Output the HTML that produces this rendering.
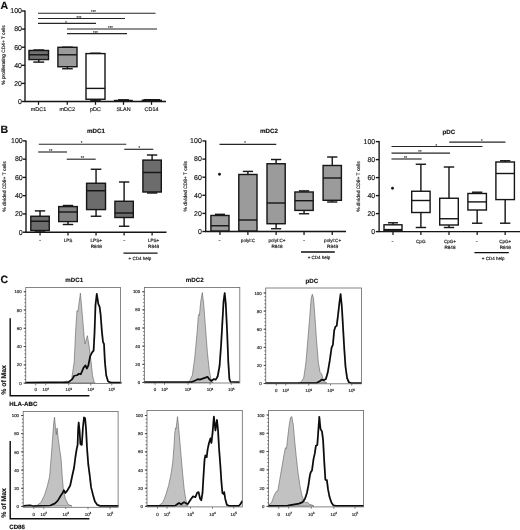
<!DOCTYPE html>
<html lang="en">
<head>
<meta charset="utf-8">
<title>Figure</title>
<style>
html,body{margin:0;padding:0;background:#fff;}
body{width:520px;height:530px;overflow:hidden;}
svg{display:block;text-rendering:geometricPrecision;}
text{stroke:#1c1c1c;stroke-width:0.16px;}
</style>
</head>
<body>
<svg width="520" height="530" viewBox="0 0 520 530" font-family='"Liberation Sans", sans-serif'>
<rect x="0" y="0" width="520" height="530" fill="#ffffff"/>
<g filter="url(#soft)">
<text x="0.6" y="8.8" font-size="10.6" text-anchor="start" font-weight="bold" fill="#111" >A</text>
<line x1="25.0" y1="10.5" x2="25.0" y2="102.0" stroke="#141414" stroke-width="1.35" />
<line x1="21.7" y1="11.0" x2="25.0" y2="11.0" stroke="#141414" stroke-width="1.35" />
<text x="22.0" y="13.32" font-size="7" text-anchor="end" font-weight="normal" fill="#141414" >100</text>
<line x1="21.7" y1="29.1" x2="25.0" y2="29.1" stroke="#141414" stroke-width="1.35" />
<text x="22.0" y="31.42" font-size="7" text-anchor="end" font-weight="normal" fill="#141414" >80</text>
<line x1="21.7" y1="47.2" x2="25.0" y2="47.2" stroke="#141414" stroke-width="1.35" />
<text x="22.0" y="49.52" font-size="7" text-anchor="end" font-weight="normal" fill="#141414" >60</text>
<line x1="21.7" y1="65.3" x2="25.0" y2="65.3" stroke="#141414" stroke-width="1.35" />
<text x="22.0" y="67.61999999999999" font-size="7" text-anchor="end" font-weight="normal" fill="#141414" >40</text>
<line x1="21.7" y1="83.4" x2="25.0" y2="83.4" stroke="#141414" stroke-width="1.35" />
<text x="22.0" y="85.72" font-size="7" text-anchor="end" font-weight="normal" fill="#141414" >20</text>
<line x1="21.7" y1="101.5" x2="25.0" y2="101.5" stroke="#141414" stroke-width="1.35" />
<text x="22.0" y="103.82" font-size="7" text-anchor="end" font-weight="normal" fill="#141414" >0</text>
<text transform="translate(5.0,55) rotate(-90)" font-size="4.8" text-anchor="middle" fill="#141414">% proliferating CD4+ T cells</text>
<line x1="24.4" y1="101.5" x2="166" y2="101.5" stroke="#141414" stroke-width="1.35" />
<line x1="38.75" y1="50.0" x2="38.75" y2="50.5" stroke="#141414" stroke-width="1.4" />
<line x1="38.75" y1="59.6" x2="38.75" y2="62.1" stroke="#141414" stroke-width="1.4" />
<line x1="33.29" y1="50.0" x2="44.21" y2="50.0" stroke="#141414" stroke-width="1.4" />
<line x1="33.29" y1="62.1" x2="44.21" y2="62.1" stroke="#141414" stroke-width="1.4" />
<rect x="29.0" y="50.5" width="19.5" height="9.100000000000001" fill="#707070" stroke="#141414" stroke-width="1.4"/>
<line x1="29.0" y1="54.8" x2="48.5" y2="54.8" stroke="#141414" stroke-width="1.4" />
<line x1="67.45" y1="47.2" x2="67.45" y2="47.3" stroke="#141414" stroke-width="1.4" />
<line x1="67.45" y1="66.75" x2="67.45" y2="68.75" stroke="#141414" stroke-width="1.4" />
<line x1="62.102000000000004" y1="47.2" x2="72.798" y2="47.2" stroke="#141414" stroke-width="1.4" />
<line x1="62.102000000000004" y1="68.75" x2="72.798" y2="68.75" stroke="#141414" stroke-width="1.4" />
<rect x="57.9" y="47.3" width="19.1" height="19.450000000000003" fill="#9b9b9b" stroke="#141414" stroke-width="1.4"/>
<line x1="57.9" y1="54.8" x2="77" y2="54.8" stroke="#141414" stroke-width="1.4" />
<line x1="95.5" y1="53.2" x2="95.5" y2="53.6" stroke="#141414" stroke-width="1.4" />
<line x1="95.5" y1="99.25" x2="95.5" y2="100.2" stroke="#141414" stroke-width="1.4" />
<line x1="90.18" y1="53.2" x2="100.82" y2="53.2" stroke="#141414" stroke-width="1.4" />
<line x1="90.18" y1="100.2" x2="100.82" y2="100.2" stroke="#141414" stroke-width="1.4" />
<rect x="86" y="53.6" width="19" height="45.65" fill="#ffffff" stroke="#141414" stroke-width="1.4"/>
<line x1="86" y1="88.4" x2="105" y2="88.4" stroke="#141414" stroke-width="1.4" />
<rect x="113.8" y="99.8" width="19" height="1.6" fill="#141414"/>
<rect x="118" y="99.1" width="11" height="1" fill="#141414"/>
<rect x="141.6" y="99.6" width="20.4" height="1.8" fill="#141414"/>
<rect x="143.5" y="99.0" width="16.5" height="1" fill="#141414"/>
<line x1="38.5" y1="101.5" x2="38.5" y2="104.8" stroke="#141414" stroke-width="1.25" />
<text x="38.5" y="111" font-size="5.4" text-anchor="middle" font-weight="normal" fill="#141414" >mDC1</text>
<line x1="67.25" y1="101.5" x2="67.25" y2="104.8" stroke="#141414" stroke-width="1.25" />
<text x="67.25" y="111" font-size="5.4" text-anchor="middle" font-weight="normal" fill="#141414" >mDC2</text>
<line x1="95.5" y1="101.5" x2="95.5" y2="104.8" stroke="#141414" stroke-width="1.25" />
<text x="95.5" y="111" font-size="5.4" text-anchor="middle" font-weight="normal" fill="#141414" >pDC</text>
<line x1="123.5" y1="101.5" x2="123.5" y2="104.8" stroke="#141414" stroke-width="1.25" />
<text x="123.5" y="111" font-size="5.4" text-anchor="middle" font-weight="normal" fill="#141414" >SLAN</text>
<line x1="151.5" y1="101.5" x2="151.5" y2="104.8" stroke="#141414" stroke-width="1.25" />
<text x="151.5" y="111" font-size="5.4" text-anchor="middle" font-weight="normal" fill="#141414" >CD14</text>
<line x1="38" y1="13.2" x2="155.5" y2="13.2" stroke="#262626" stroke-width="1.15" />
<text x="93.5" y="13.299999999999999" font-size="4.2" text-anchor="middle" font-weight="normal" fill="#222" >***</text>
<line x1="38" y1="18.5" x2="125" y2="18.5" stroke="#262626" stroke-width="1.15" />
<text x="79" y="18.6" font-size="4.2" text-anchor="middle" font-weight="normal" fill="#222" >***</text>
<line x1="38" y1="23.4" x2="96" y2="23.4" stroke="#262626" stroke-width="1.15" />
<text x="66" y="23.5" font-size="4.2" text-anchor="middle" font-weight="normal" fill="#222" >*</text>
<line x1="67" y1="29" x2="157" y2="29" stroke="#262626" stroke-width="1.15" />
<text x="110.5" y="29.1" font-size="4.2" text-anchor="middle" font-weight="normal" fill="#222" >***</text>
<line x1="67" y1="33.6" x2="127" y2="33.6" stroke="#262626" stroke-width="1.15" />
<text x="95.5" y="33.7" font-size="4.2" text-anchor="middle" font-weight="normal" fill="#222" >***</text>
<text x="0.4" y="133.1" font-size="10.6" text-anchor="start" font-weight="bold" fill="#111" >B</text>
<text x="95.9" y="133.2" font-size="6.2" text-anchor="middle" font-weight="bold" fill="#141414" >mDC1</text>
<line x1="26.0" y1="140.4" x2="26.0" y2="232.7" stroke="#141414" stroke-width="1.35" />
<line x1="22.7" y1="140.9" x2="26.0" y2="140.9" stroke="#141414" stroke-width="1.35" />
<text x="22.7" y="143.22000000000003" font-size="7" text-anchor="end" font-weight="normal" fill="#141414" >100</text>
<line x1="22.7" y1="159.16" x2="26.0" y2="159.16" stroke="#141414" stroke-width="1.35" />
<text x="22.7" y="161.48000000000002" font-size="7" text-anchor="end" font-weight="normal" fill="#141414" >80</text>
<line x1="22.7" y1="177.42000000000002" x2="26.0" y2="177.42000000000002" stroke="#141414" stroke-width="1.35" />
<text x="22.7" y="179.74000000000004" font-size="7" text-anchor="end" font-weight="normal" fill="#141414" >60</text>
<line x1="22.7" y1="195.68" x2="26.0" y2="195.68" stroke="#141414" stroke-width="1.35" />
<text x="22.7" y="198.00000000000003" font-size="7" text-anchor="end" font-weight="normal" fill="#141414" >40</text>
<line x1="22.7" y1="213.94" x2="26.0" y2="213.94" stroke="#141414" stroke-width="1.35" />
<text x="22.7" y="216.26000000000002" font-size="7" text-anchor="end" font-weight="normal" fill="#141414" >20</text>
<line x1="22.7" y1="232.2" x2="26.0" y2="232.2" stroke="#141414" stroke-width="1.35" />
<text x="22.7" y="234.52" font-size="7" text-anchor="end" font-weight="normal" fill="#141414" >0</text>
<text transform="translate(5.8,186.55) rotate(-90)" font-size="4.9" text-anchor="middle" fill="#141414">% divided CD8+ T cells</text>
<line x1="25.4" y1="232.2" x2="166.5" y2="232.2" stroke="#141414" stroke-width="1.35" />
<line x1="40.025" y1="210.9" x2="40.025" y2="216.25" stroke="#141414" stroke-width="1.4" />
<line x1="40.025" y1="230.5" x2="40.025" y2="231" stroke="#141414" stroke-width="1.4" />
<line x1="34.858999999999995" y1="210.9" x2="45.191" y2="210.9" stroke="#141414" stroke-width="1.4" />
<line x1="34.858999999999995" y1="231" x2="45.191" y2="231" stroke="#141414" stroke-width="1.4" />
<rect x="30.8" y="216.25" width="18.45" height="14.25" fill="#6c6c6c" stroke="#141414" stroke-width="1.4"/>
<line x1="30.8" y1="221.25" x2="49.25" y2="221.25" stroke="#141414" stroke-width="1.4" />
<line x1="40.025" y1="232.2" x2="40.025" y2="235.6" stroke="#141414" stroke-width="1.25" />
<line x1="68.0" y1="205.5" x2="68.0" y2="206.6" stroke="#141414" stroke-width="1.4" />
<line x1="68.0" y1="221.6" x2="68.0" y2="224.5" stroke="#141414" stroke-width="1.4" />
<line x1="62.792" y1="205.5" x2="73.208" y2="205.5" stroke="#141414" stroke-width="1.4" />
<line x1="62.792" y1="224.5" x2="73.208" y2="224.5" stroke="#141414" stroke-width="1.4" />
<rect x="58.7" y="206.6" width="18.599999999999994" height="15.0" fill="#808080" stroke="#141414" stroke-width="1.4"/>
<line x1="58.7" y1="212" x2="77.3" y2="212" stroke="#141414" stroke-width="1.4" />
<line x1="68.0" y1="232.2" x2="68.0" y2="235.6" stroke="#141414" stroke-width="1.25" />
<line x1="96.05" y1="169.25" x2="96.05" y2="183.25" stroke="#141414" stroke-width="1.4" />
<line x1="96.05" y1="209.6" x2="96.05" y2="216.25" stroke="#141414" stroke-width="1.4" />
<line x1="90.758" y1="169.25" x2="101.342" y2="169.25" stroke="#141414" stroke-width="1.4" />
<line x1="90.758" y1="216.25" x2="101.342" y2="216.25" stroke="#141414" stroke-width="1.4" />
<rect x="86.6" y="183.25" width="18.900000000000006" height="26.349999999999994" fill="#6c6c6c" stroke="#141414" stroke-width="1.4"/>
<line x1="86.6" y1="190.75" x2="105.5" y2="190.75" stroke="#141414" stroke-width="1.4" />
<line x1="96.05" y1="232.2" x2="96.05" y2="235.6" stroke="#141414" stroke-width="1.25" />
<line x1="124.10000000000001" y1="182" x2="124.10000000000001" y2="201.25" stroke="#141414" stroke-width="1.4" />
<line x1="124.10000000000001" y1="217.5" x2="124.10000000000001" y2="226.25" stroke="#141414" stroke-width="1.4" />
<line x1="118.94800000000001" y1="182" x2="129.252" y2="182" stroke="#141414" stroke-width="1.4" />
<line x1="118.94800000000001" y1="226.25" x2="129.252" y2="226.25" stroke="#141414" stroke-width="1.4" />
<rect x="114.9" y="201.25" width="18.400000000000006" height="16.25" fill="#6c6c6c" stroke="#141414" stroke-width="1.4"/>
<line x1="114.9" y1="213" x2="133.3" y2="213" stroke="#141414" stroke-width="1.4" />
<line x1="124.10000000000001" y1="232.2" x2="124.10000000000001" y2="235.6" stroke="#141414" stroke-width="1.25" />
<line x1="152.10000000000002" y1="155" x2="152.10000000000002" y2="160.1" stroke="#141414" stroke-width="1.4" />
<line x1="152.10000000000002" y1="192" x2="152.10000000000002" y2="193" stroke="#141414" stroke-width="1.4" />
<line x1="146.948" y1="155" x2="157.25200000000004" y2="155" stroke="#141414" stroke-width="1.4" />
<line x1="146.948" y1="193" x2="157.25200000000004" y2="193" stroke="#141414" stroke-width="1.4" />
<rect x="142.9" y="160.1" width="18.400000000000006" height="31.900000000000006" fill="#6c6c6c" stroke="#141414" stroke-width="1.4"/>
<line x1="142.9" y1="172.5" x2="161.3" y2="172.5" stroke="#141414" stroke-width="1.4" />
<line x1="152.10000000000002" y1="232.2" x2="152.10000000000002" y2="235.6" stroke="#141414" stroke-width="1.25" />
<text x="40" y="241.7" font-size="6.5" text-anchor="middle" font-weight="normal" fill="#141414" >-</text>
<text x="68" y="241.7" font-size="4.6" text-anchor="middle" font-weight="normal" fill="#141414" >LPS</text>
<text x="96.25" y="241.7" font-size="4.6" text-anchor="middle" font-weight="normal" fill="#141414" >LPS+</text>
<text x="96.25" y="247.7" font-size="4.6" text-anchor="middle" font-weight="normal" fill="#141414" >R848</text>
<text x="124.25" y="241.7" font-size="6.5" text-anchor="middle" font-weight="normal" fill="#141414" >-</text>
<text x="153.6" y="241.7" font-size="4.6" text-anchor="middle" font-weight="normal" fill="#141414" >LPS+</text>
<text x="153.6" y="247.7" font-size="4.6" text-anchor="middle" font-weight="normal" fill="#141414" >R848</text>
<line x1="123.5" y1="253.1" x2="157.5" y2="253.1" stroke="#111" stroke-width="1.4" />
<text x="139.9" y="260.1" font-size="4.5" text-anchor="middle" font-weight="normal" fill="#141414" >+ CD4 help</text>
<line x1="38.75" y1="144.2" x2="126.25" y2="144.2" stroke="#262626" stroke-width="1.15" />
<text x="81.5" y="144.29999999999998" font-size="4.2" text-anchor="middle" font-weight="normal" fill="#222" >*</text>
<line x1="38.2" y1="152" x2="67" y2="152" stroke="#262626" stroke-width="1.15" />
<text x="50.75" y="152.1" font-size="4.2" text-anchor="middle" font-weight="normal" fill="#222" >**</text>
<line x1="66.7" y1="159.2" x2="95.7" y2="159.2" stroke="#262626" stroke-width="1.15" />
<text x="82.5" y="159.29999999999998" font-size="4.2" text-anchor="middle" font-weight="normal" fill="#222" >**</text>
<line x1="124.25" y1="149.3" x2="153.25" y2="149.3" stroke="#262626" stroke-width="1.15" />
<text x="139.25" y="149.4" font-size="4.2" text-anchor="middle" font-weight="normal" fill="#222" >*</text>
<text x="268.9" y="133.2" font-size="6.2" text-anchor="middle" font-weight="bold" fill="#141414" >mDC2</text>
<line x1="205.7" y1="140.5" x2="205.7" y2="232.0" stroke="#141414" stroke-width="1.35" />
<line x1="202.39999999999998" y1="141.0" x2="205.7" y2="141.0" stroke="#141414" stroke-width="1.35" />
<text x="201.8" y="143.32000000000002" font-size="7" text-anchor="end" font-weight="normal" fill="#141414" >100</text>
<line x1="202.39999999999998" y1="159.1" x2="205.7" y2="159.1" stroke="#141414" stroke-width="1.35" />
<text x="201.8" y="161.42000000000002" font-size="7" text-anchor="end" font-weight="normal" fill="#141414" >80</text>
<line x1="202.39999999999998" y1="177.2" x2="205.7" y2="177.2" stroke="#141414" stroke-width="1.35" />
<text x="201.8" y="179.52" font-size="7" text-anchor="end" font-weight="normal" fill="#141414" >60</text>
<line x1="202.39999999999998" y1="195.3" x2="205.7" y2="195.3" stroke="#141414" stroke-width="1.35" />
<text x="201.8" y="197.62000000000003" font-size="7" text-anchor="end" font-weight="normal" fill="#141414" >40</text>
<line x1="202.39999999999998" y1="213.4" x2="205.7" y2="213.4" stroke="#141414" stroke-width="1.35" />
<text x="201.8" y="215.72000000000003" font-size="7" text-anchor="end" font-weight="normal" fill="#141414" >20</text>
<line x1="202.39999999999998" y1="231.5" x2="205.7" y2="231.5" stroke="#141414" stroke-width="1.35" />
<text x="201.8" y="233.82000000000002" font-size="7" text-anchor="end" font-weight="normal" fill="#141414" >0</text>
<text transform="translate(186.7,186.25) rotate(-90)" font-size="4.9" text-anchor="middle" fill="#141414">% divided CD8+ T cells</text>
<line x1="205.1" y1="231.5" x2="346" y2="231.5" stroke="#141414" stroke-width="1.35" />
<line x1="219.95" y1="214.3" x2="219.95" y2="215.5" stroke="#141414" stroke-width="1.4" />
<line x1="219.95" y1="231" x2="219.95" y2="231" stroke="#141414" stroke-width="1.4" />
<line x1="214.88199999999998" y1="214.3" x2="225.018" y2="214.3" stroke="#141414" stroke-width="1.4" />
<line x1="214.88199999999998" y1="231" x2="225.018" y2="231" stroke="#141414" stroke-width="1.4" />
<rect x="210.9" y="215.5" width="18.099999999999994" height="15.5" fill="#9b9b9b" stroke="#141414" stroke-width="1.4"/>
<line x1="210.9" y1="225.75" x2="229.0" y2="225.75" stroke="#141414" stroke-width="1.4" />
<line x1="219.95" y1="231.5" x2="219.95" y2="234.9" stroke="#141414" stroke-width="1.25" />
<line x1="247.9" y1="171.4" x2="247.9" y2="174.5" stroke="#141414" stroke-width="1.4" />
<line x1="247.9" y1="231" x2="247.9" y2="231" stroke="#141414" stroke-width="1.4" />
<line x1="242.804" y1="171.4" x2="252.996" y2="171.4" stroke="#141414" stroke-width="1.4" />
<line x1="242.804" y1="231" x2="252.996" y2="231" stroke="#141414" stroke-width="1.4" />
<rect x="238.8" y="174.5" width="18.19999999999999" height="56.5" fill="#9b9b9b" stroke="#141414" stroke-width="1.4"/>
<line x1="238.8" y1="220" x2="257.0" y2="220" stroke="#141414" stroke-width="1.4" />
<line x1="247.9" y1="231.5" x2="247.9" y2="234.9" stroke="#141414" stroke-width="1.25" />
<line x1="276.1" y1="159.5" x2="276.1" y2="163.75" stroke="#141414" stroke-width="1.4" />
<line x1="276.1" y1="223.75" x2="276.1" y2="228.75" stroke="#141414" stroke-width="1.4" />
<line x1="271.004" y1="159.5" x2="281.196" y2="159.5" stroke="#141414" stroke-width="1.4" />
<line x1="271.004" y1="228.75" x2="281.196" y2="228.75" stroke="#141414" stroke-width="1.4" />
<rect x="267" y="163.75" width="18.19999999999999" height="60.0" fill="#9b9b9b" stroke="#141414" stroke-width="1.4"/>
<line x1="267" y1="203.0" x2="285.2" y2="203.0" stroke="#141414" stroke-width="1.4" />
<line x1="276.1" y1="231.5" x2="276.1" y2="234.9" stroke="#141414" stroke-width="1.25" />
<line x1="304.04999999999995" y1="190.9" x2="304.04999999999995" y2="192.0" stroke="#141414" stroke-width="1.4" />
<line x1="304.04999999999995" y1="210.4" x2="304.04999999999995" y2="213.75" stroke="#141414" stroke-width="1.4" />
<line x1="298.92599999999993" y1="190.9" x2="309.174" y2="190.9" stroke="#141414" stroke-width="1.4" />
<line x1="298.92599999999993" y1="213.75" x2="309.174" y2="213.75" stroke="#141414" stroke-width="1.4" />
<rect x="294.9" y="192.0" width="18.30000000000001" height="18.400000000000006" fill="#9b9b9b" stroke="#141414" stroke-width="1.4"/>
<line x1="294.9" y1="200.7" x2="313.2" y2="200.7" stroke="#141414" stroke-width="1.4" />
<line x1="304.04999999999995" y1="231.5" x2="304.04999999999995" y2="234.9" stroke="#141414" stroke-width="1.25" />
<line x1="332.25" y1="157" x2="332.25" y2="165.5" stroke="#141414" stroke-width="1.4" />
<line x1="332.25" y1="200.3" x2="332.25" y2="202" stroke="#141414" stroke-width="1.4" />
<line x1="327.12600000000003" y1="157" x2="337.37399999999997" y2="157" stroke="#141414" stroke-width="1.4" />
<line x1="327.12600000000003" y1="202" x2="337.37399999999997" y2="202" stroke="#141414" stroke-width="1.4" />
<rect x="323.1" y="165.5" width="18.299999999999955" height="34.80000000000001" fill="#9b9b9b" stroke="#141414" stroke-width="1.4"/>
<line x1="323.1" y1="178" x2="341.4" y2="178" stroke="#141414" stroke-width="1.4" />
<line x1="332.25" y1="231.5" x2="332.25" y2="234.9" stroke="#141414" stroke-width="1.25" />
<circle cx="219.5" cy="174.25" r="1.4" fill="#141414"/>
<text x="219.5" y="241.8" font-size="6.5" text-anchor="middle" font-weight="normal" fill="#141414" >-</text>
<text x="248" y="241.8" font-size="4.6" text-anchor="middle" font-weight="normal" fill="#141414" >polyI:C</text>
<text x="277" y="241.8" font-size="4.6" text-anchor="middle" font-weight="normal" fill="#141414" >polyI:C+</text>
<text x="277" y="247.8" font-size="4.6" text-anchor="middle" font-weight="normal" fill="#141414" >R848</text>
<text x="304" y="241.8" font-size="6.5" text-anchor="middle" font-weight="normal" fill="#141414" >-</text>
<text x="332.6" y="241.8" font-size="4.6" text-anchor="middle" font-weight="normal" fill="#141414" >polyI:C+</text>
<text x="332.6" y="247.8" font-size="4.6" text-anchor="middle" font-weight="normal" fill="#141414" >R848</text>
<line x1="301" y1="252.0" x2="334.8" y2="252.0" stroke="#111" stroke-width="1.4" />
<text x="319" y="259.4" font-size="4.5" text-anchor="middle" font-weight="normal" fill="#141414" >+ CD4 help</text>
<line x1="219.5" y1="144.3" x2="276.25" y2="144.3" stroke="#262626" stroke-width="1.15" />
<text x="245" y="144.4" font-size="4.2" text-anchor="middle" font-weight="normal" fill="#222" >*</text>
<text x="448.75" y="133.6" font-size="6.2" text-anchor="middle" font-weight="bold" fill="#141414" >pDC</text>
<line x1="379.1" y1="141.1" x2="379.1" y2="232.1" stroke="#141414" stroke-width="1.35" />
<line x1="375.8" y1="141.6" x2="379.1" y2="141.6" stroke="#141414" stroke-width="1.35" />
<text x="375.2" y="143.92000000000002" font-size="7" text-anchor="end" font-weight="normal" fill="#141414" >100</text>
<line x1="375.8" y1="159.6" x2="379.1" y2="159.6" stroke="#141414" stroke-width="1.35" />
<text x="375.2" y="161.92000000000002" font-size="7" text-anchor="end" font-weight="normal" fill="#141414" >80</text>
<line x1="375.8" y1="177.6" x2="379.1" y2="177.6" stroke="#141414" stroke-width="1.35" />
<text x="375.2" y="179.92000000000002" font-size="7" text-anchor="end" font-weight="normal" fill="#141414" >60</text>
<line x1="375.8" y1="195.6" x2="379.1" y2="195.6" stroke="#141414" stroke-width="1.35" />
<text x="375.2" y="197.92000000000002" font-size="7" text-anchor="end" font-weight="normal" fill="#141414" >40</text>
<line x1="375.8" y1="213.6" x2="379.1" y2="213.6" stroke="#141414" stroke-width="1.35" />
<text x="375.2" y="215.92000000000002" font-size="7" text-anchor="end" font-weight="normal" fill="#141414" >20</text>
<line x1="375.8" y1="231.6" x2="379.1" y2="231.6" stroke="#141414" stroke-width="1.35" />
<text x="375.2" y="233.92000000000002" font-size="7" text-anchor="end" font-weight="normal" fill="#141414" >0</text>
<text transform="translate(359.5,186.6) rotate(-90)" font-size="4.9" text-anchor="middle" fill="#141414">% divided CD8+ T cells</text>
<line x1="378.5" y1="231.6" x2="520" y2="231.6" stroke="#141414" stroke-width="1.35" />
<line x1="393.0" y1="222.8" x2="393.0" y2="224.8" stroke="#141414" stroke-width="1.4" />
<line x1="393.0" y1="230.8" x2="393.0" y2="231" stroke="#141414" stroke-width="1.4" />
<line x1="387.96" y1="222.8" x2="398.04" y2="222.8" stroke="#141414" stroke-width="1.4" />
<line x1="387.96" y1="231" x2="398.04" y2="231" stroke="#141414" stroke-width="1.4" />
<rect x="384.0" y="224.8" width="18.0" height="6.0" fill="#ffffff" stroke="#141414" stroke-width="1.4"/>
<line x1="384.0" y1="229.6" x2="402.0" y2="229.6" stroke="#141414" stroke-width="1.4" />
<line x1="393.0" y1="231.6" x2="393.0" y2="235.0" stroke="#141414" stroke-width="1.25" />
<line x1="420.9" y1="164.25" x2="420.9" y2="191.25" stroke="#141414" stroke-width="1.4" />
<line x1="420.9" y1="212.5" x2="420.9" y2="227.5" stroke="#141414" stroke-width="1.4" />
<line x1="415.748" y1="164.25" x2="426.05199999999996" y2="164.25" stroke="#141414" stroke-width="1.4" />
<line x1="415.748" y1="227.5" x2="426.05199999999996" y2="227.5" stroke="#141414" stroke-width="1.4" />
<rect x="411.7" y="191.25" width="18.400000000000034" height="21.25" fill="#ffffff" stroke="#141414" stroke-width="1.4"/>
<line x1="411.7" y1="200.5" x2="430.1" y2="200.5" stroke="#141414" stroke-width="1.4" />
<line x1="420.9" y1="231.6" x2="420.9" y2="235.0" stroke="#141414" stroke-width="1.25" />
<line x1="449.0" y1="167" x2="449.0" y2="198.25" stroke="#141414" stroke-width="1.4" />
<line x1="449.0" y1="225" x2="449.0" y2="227.5" stroke="#141414" stroke-width="1.4" />
<line x1="443.792" y1="167" x2="454.208" y2="167" stroke="#141414" stroke-width="1.4" />
<line x1="443.792" y1="227.5" x2="454.208" y2="227.5" stroke="#141414" stroke-width="1.4" />
<rect x="439.7" y="198.25" width="18.600000000000023" height="26.75" fill="#ffffff" stroke="#141414" stroke-width="1.4"/>
<line x1="439.7" y1="218.75" x2="458.3" y2="218.75" stroke="#141414" stroke-width="1.4" />
<line x1="449.0" y1="231.6" x2="449.0" y2="235.0" stroke="#141414" stroke-width="1.25" />
<line x1="477.15" y1="192.2" x2="477.15" y2="193.5" stroke="#141414" stroke-width="1.4" />
<line x1="477.15" y1="210" x2="477.15" y2="223.2" stroke="#141414" stroke-width="1.4" />
<line x1="471.96999999999997" y1="192.2" x2="482.33" y2="192.2" stroke="#141414" stroke-width="1.4" />
<line x1="471.96999999999997" y1="223.2" x2="482.33" y2="223.2" stroke="#141414" stroke-width="1.4" />
<rect x="467.9" y="193.5" width="18.5" height="16.5" fill="#ffffff" stroke="#141414" stroke-width="1.4"/>
<line x1="467.9" y1="201.9" x2="486.4" y2="201.9" stroke="#141414" stroke-width="1.4" />
<line x1="477.15" y1="231.6" x2="477.15" y2="235.0" stroke="#141414" stroke-width="1.25" />
<line x1="505.15" y1="160.75" x2="505.15" y2="162" stroke="#141414" stroke-width="1.4" />
<line x1="505.15" y1="199.6" x2="505.15" y2="223.2" stroke="#141414" stroke-width="1.4" />
<line x1="499.96999999999997" y1="160.75" x2="510.33" y2="160.75" stroke="#141414" stroke-width="1.4" />
<line x1="499.96999999999997" y1="223.2" x2="510.33" y2="223.2" stroke="#141414" stroke-width="1.4" />
<rect x="495.9" y="162" width="18.5" height="37.599999999999994" fill="#ffffff" stroke="#141414" stroke-width="1.4"/>
<line x1="495.9" y1="173.5" x2="514.4" y2="173.5" stroke="#141414" stroke-width="1.4" />
<line x1="505.15" y1="231.6" x2="505.15" y2="235.0" stroke="#141414" stroke-width="1.25" />
<circle cx="392.5" cy="188.25" r="1.4" fill="#141414"/>
<text x="392.5" y="242.8" font-size="6.5" text-anchor="middle" font-weight="normal" fill="#141414" >-</text>
<text x="420.75" y="242.8" font-size="4.6" text-anchor="middle" font-weight="normal" fill="#141414" >CpG</text>
<text x="450" y="242.8" font-size="4.6" text-anchor="middle" font-weight="normal" fill="#141414" >CpG+</text>
<text x="450" y="248.8" font-size="4.6" text-anchor="middle" font-weight="normal" fill="#141414" >R848</text>
<text x="476.9" y="242.8" font-size="6.5" text-anchor="middle" font-weight="normal" fill="#141414" >-</text>
<text x="505.2" y="242.8" font-size="4.6" text-anchor="middle" font-weight="normal" fill="#141414" >CpG+</text>
<text x="505.2" y="248.8" font-size="4.6" text-anchor="middle" font-weight="normal" fill="#141414" >R848</text>
<line x1="474.4" y1="252.6" x2="508.8" y2="252.6" stroke="#111" stroke-width="1.4" />
<text x="493.1" y="260.1" font-size="4.5" text-anchor="middle" font-weight="normal" fill="#141414" >+ CD4 help</text>
<line x1="391.5" y1="146.5" x2="482.5" y2="146.5" stroke="#262626" stroke-width="1.15" />
<text x="436.25" y="146.6" font-size="4.2" text-anchor="middle" font-weight="normal" fill="#222" >*</text>
<line x1="391.5" y1="153.1" x2="450" y2="153.1" stroke="#262626" stroke-width="1.15" />
<text x="420" y="153.2" font-size="4.2" text-anchor="middle" font-weight="normal" fill="#222" >**</text>
<line x1="391.5" y1="159" x2="421.7" y2="159" stroke="#262626" stroke-width="1.15" />
<text x="405.6" y="159.1" font-size="4.2" text-anchor="middle" font-weight="normal" fill="#222" >**</text>
<line x1="449.25" y1="142.1" x2="505.5" y2="142.1" stroke="#262626" stroke-width="1.15" />
<text x="481.75" y="142.2" font-size="4.2" text-anchor="middle" font-weight="normal" fill="#222" >*</text>
<text x="0.5" y="283.1" font-size="10.6" text-anchor="start" font-weight="bold" fill="#111" >C</text>
<text x="74.2" y="282.1" font-size="6.2" text-anchor="middle" font-weight="bold" fill="#141414" >mDC1</text>
<polygon points="62,382.9 66.6,381.19 69.5,381.89 71.7,379.07 74.2,361.96 75.7,329.65 77,310.62 77.9,311.63 80.4,293.21 82.3,314.45 84.2,337.3 85.1,343.84 87.4,335.69 89.2,346.76 91.1,361.96 92.5,375.25 94,381.89 95,382.9" fill="#c2c2c2" stroke="#5c5c5c" stroke-width="0.6" stroke-linejoin="round"/>
<polyline points="26,382.7 68.5,382.19 72.3,379.07 74.2,375.75 77,375.25 78.9,373.74 80.8,374.24 83.6,367.6 85.5,365.38 86.8,368.5 88.3,365.69 90.2,356.22 92.1,352.4 93.6,350.59 94.5,333.47 95.5,304.99 96.8,293.91 98.3,303.98 99.6,306.9 100.6,314.45 101.9,331.56 103,342.03 104,343.84 104.9,361.96 106.2,375.25 108.1,381.49 110.9,382.6 120.8,382.7" fill="none" stroke="#0a0a0a" stroke-width="1.75" stroke-linejoin="round" stroke-linecap="round"/>
<rect x="25.75" y="287.5" width="94.65" height="96.10000000000002" fill="none" stroke="#666" stroke-width="0.8"/>
<line x1="23.65" y1="291.75" x2="25.75" y2="291.75" stroke="#333" stroke-width="0.9" />
<text x="21.55" y="293.35" font-size="4.3" text-anchor="end" font-weight="normal" fill="#222" >100</text>
<line x1="23.65" y1="310.02" x2="25.75" y2="310.02" stroke="#333" stroke-width="0.9" />
<text x="21.55" y="311.62" font-size="4.3" text-anchor="end" font-weight="normal" fill="#222" >80</text>
<line x1="23.65" y1="328.29" x2="25.75" y2="328.29" stroke="#333" stroke-width="0.9" />
<text x="21.55" y="329.89000000000004" font-size="4.3" text-anchor="end" font-weight="normal" fill="#222" >60</text>
<line x1="23.65" y1="346.56" x2="25.75" y2="346.56" stroke="#333" stroke-width="0.9" />
<text x="21.55" y="348.16" font-size="4.3" text-anchor="end" font-weight="normal" fill="#222" >40</text>
<line x1="23.65" y1="364.83000000000004" x2="25.75" y2="364.83000000000004" stroke="#333" stroke-width="0.9" />
<text x="21.55" y="366.43000000000006" font-size="4.3" text-anchor="end" font-weight="normal" fill="#222" >20</text>
<line x1="23.65" y1="383.1" x2="25.75" y2="383.1" stroke="#333" stroke-width="0.9" />
<text x="21.55" y="384.70000000000005" font-size="4.3" text-anchor="end" font-weight="normal" fill="#222" >0</text>
<line x1="24.35" y1="383.1" x2="25.75" y2="383.1" stroke="#444" stroke-width="0.7" />
<line x1="24.35" y1="379.446" x2="25.75" y2="379.446" stroke="#444" stroke-width="0.7" />
<line x1="24.35" y1="375.79200000000003" x2="25.75" y2="375.79200000000003" stroke="#444" stroke-width="0.7" />
<line x1="24.35" y1="372.13800000000003" x2="25.75" y2="372.13800000000003" stroke="#444" stroke-width="0.7" />
<line x1="24.35" y1="368.48400000000004" x2="25.75" y2="368.48400000000004" stroke="#444" stroke-width="0.7" />
<line x1="24.35" y1="364.83000000000004" x2="25.75" y2="364.83000000000004" stroke="#444" stroke-width="0.7" />
<line x1="24.35" y1="361.17600000000004" x2="25.75" y2="361.17600000000004" stroke="#444" stroke-width="0.7" />
<line x1="24.35" y1="357.522" x2="25.75" y2="357.522" stroke="#444" stroke-width="0.7" />
<line x1="24.35" y1="353.868" x2="25.75" y2="353.868" stroke="#444" stroke-width="0.7" />
<line x1="24.35" y1="350.214" x2="25.75" y2="350.214" stroke="#444" stroke-width="0.7" />
<line x1="24.35" y1="346.56" x2="25.75" y2="346.56" stroke="#444" stroke-width="0.7" />
<line x1="24.35" y1="342.906" x2="25.75" y2="342.906" stroke="#444" stroke-width="0.7" />
<line x1="24.35" y1="339.252" x2="25.75" y2="339.252" stroke="#444" stroke-width="0.7" />
<line x1="24.35" y1="335.598" x2="25.75" y2="335.598" stroke="#444" stroke-width="0.7" />
<line x1="24.35" y1="331.944" x2="25.75" y2="331.944" stroke="#444" stroke-width="0.7" />
<line x1="24.35" y1="328.29" x2="25.75" y2="328.29" stroke="#444" stroke-width="0.7" />
<line x1="24.35" y1="324.636" x2="25.75" y2="324.636" stroke="#444" stroke-width="0.7" />
<line x1="24.35" y1="320.982" x2="25.75" y2="320.982" stroke="#444" stroke-width="0.7" />
<line x1="24.35" y1="317.328" x2="25.75" y2="317.328" stroke="#444" stroke-width="0.7" />
<line x1="24.35" y1="313.674" x2="25.75" y2="313.674" stroke="#444" stroke-width="0.7" />
<line x1="24.35" y1="310.02" x2="25.75" y2="310.02" stroke="#444" stroke-width="0.7" />
<line x1="24.35" y1="306.366" x2="25.75" y2="306.366" stroke="#444" stroke-width="0.7" />
<line x1="24.35" y1="302.712" x2="25.75" y2="302.712" stroke="#444" stroke-width="0.7" />
<line x1="24.35" y1="299.058" x2="25.75" y2="299.058" stroke="#444" stroke-width="0.7" />
<line x1="24.35" y1="295.404" x2="25.75" y2="295.404" stroke="#444" stroke-width="0.7" />
<line x1="24.35" y1="291.75" x2="25.75" y2="291.75" stroke="#444" stroke-width="0.7" />
<line x1="35.75" y1="383.6" x2="35.75" y2="385.40000000000003" stroke="#4a4a4a" stroke-width="0.7" />
<line x1="45.75" y1="383.6" x2="45.75" y2="385.40000000000003" stroke="#4a4a4a" stroke-width="0.7" />
<line x1="68.75" y1="383.6" x2="68.75" y2="385.40000000000003" stroke="#4a4a4a" stroke-width="0.7" />
<line x1="90.75" y1="383.6" x2="90.75" y2="385.40000000000003" stroke="#4a4a4a" stroke-width="0.7" />
<line x1="111.75" y1="383.6" x2="111.75" y2="385.40000000000003" stroke="#4a4a4a" stroke-width="0.7" />
<text x="35.75" y="391.2" font-size="4.4" text-anchor="middle" font-weight="normal" fill="#222" >0</text>
<text x="45.75" y="391.2" font-size="4.4" text-anchor="middle" font-weight="normal" fill="#222" >10<tspan dy="-1.5" font-size="3.1">2</tspan></text>
<text x="68.75" y="391.2" font-size="4.4" text-anchor="middle" font-weight="normal" fill="#222" >10<tspan dy="-1.5" font-size="3.1">3</tspan></text>
<text x="90.75" y="391.2" font-size="4.4" text-anchor="middle" font-weight="normal" fill="#222" >10<tspan dy="-1.5" font-size="3.1">4</tspan></text>
<text x="111.75" y="391.2" font-size="4.4" text-anchor="middle" font-weight="normal" fill="#222" >10<tspan dy="-1.5" font-size="3.1">5</tspan></text>
<text x="194.7" y="282.3" font-size="6.2" text-anchor="middle" font-weight="bold" fill="#141414" >mDC2</text>
<polygon points="186,382.5 189.4,381.59 192.3,375.35 194.7,358.21 197,333.52 198.3,316.39 198.9,314.48 199.4,315.38 200.8,301.17 202.3,292.61 203.6,303.09 205.5,327.78 207.4,352.47 209.2,369.6 211.1,380.08 212.1,381.59 213,382.5" fill="#c2c2c2" stroke="#5c5c5c" stroke-width="0.6" stroke-linejoin="round"/>
<polyline points="144.6,382.2 191.3,382.1 194.2,380.99 197.9,379.17 199.8,379.68 202.6,378.57 205.5,377.56 207.7,376.86 209.2,379.17 211.1,380.99 213.6,379.17 215.8,379.68 217.7,376.25 219.6,365.77 221.1,344.91 222.5,320.22 223.6,301.17 224.7,293.21 225.8,303.99 227.2,333.52 228.3,362.04 229.4,379.17 230.6,382.0 238.8,382.2" fill="none" stroke="#0a0a0a" stroke-width="1.75" stroke-linejoin="round" stroke-linecap="round"/>
<rect x="144.35" y="287.5" width="95.45000000000002" height="95.5" fill="none" stroke="#666" stroke-width="0.8"/>
<line x1="142.25" y1="291.75" x2="144.35" y2="291.75" stroke="#333" stroke-width="0.9" />
<text x="140.15" y="293.35" font-size="4.3" text-anchor="end" font-weight="normal" fill="#222" >100</text>
<line x1="142.25" y1="309.89" x2="144.35" y2="309.89" stroke="#333" stroke-width="0.9" />
<text x="140.15" y="311.49" font-size="4.3" text-anchor="end" font-weight="normal" fill="#222" >80</text>
<line x1="142.25" y1="328.03" x2="144.35" y2="328.03" stroke="#333" stroke-width="0.9" />
<text x="140.15" y="329.63" font-size="4.3" text-anchor="end" font-weight="normal" fill="#222" >60</text>
<line x1="142.25" y1="346.17" x2="144.35" y2="346.17" stroke="#333" stroke-width="0.9" />
<text x="140.15" y="347.77000000000004" font-size="4.3" text-anchor="end" font-weight="normal" fill="#222" >40</text>
<line x1="142.25" y1="364.31" x2="144.35" y2="364.31" stroke="#333" stroke-width="0.9" />
<text x="140.15" y="365.91" font-size="4.3" text-anchor="end" font-weight="normal" fill="#222" >20</text>
<line x1="142.25" y1="382.45" x2="144.35" y2="382.45" stroke="#333" stroke-width="0.9" />
<text x="140.15" y="384.05" font-size="4.3" text-anchor="end" font-weight="normal" fill="#222" >0</text>
<line x1="142.95" y1="382.45" x2="144.35" y2="382.45" stroke="#444" stroke-width="0.7" />
<line x1="142.95" y1="378.822" x2="144.35" y2="378.822" stroke="#444" stroke-width="0.7" />
<line x1="142.95" y1="375.194" x2="144.35" y2="375.194" stroke="#444" stroke-width="0.7" />
<line x1="142.95" y1="371.566" x2="144.35" y2="371.566" stroke="#444" stroke-width="0.7" />
<line x1="142.95" y1="367.938" x2="144.35" y2="367.938" stroke="#444" stroke-width="0.7" />
<line x1="142.95" y1="364.31" x2="144.35" y2="364.31" stroke="#444" stroke-width="0.7" />
<line x1="142.95" y1="360.682" x2="144.35" y2="360.682" stroke="#444" stroke-width="0.7" />
<line x1="142.95" y1="357.054" x2="144.35" y2="357.054" stroke="#444" stroke-width="0.7" />
<line x1="142.95" y1="353.426" x2="144.35" y2="353.426" stroke="#444" stroke-width="0.7" />
<line x1="142.95" y1="349.798" x2="144.35" y2="349.798" stroke="#444" stroke-width="0.7" />
<line x1="142.95" y1="346.17" x2="144.35" y2="346.17" stroke="#444" stroke-width="0.7" />
<line x1="142.95" y1="342.542" x2="144.35" y2="342.542" stroke="#444" stroke-width="0.7" />
<line x1="142.95" y1="338.914" x2="144.35" y2="338.914" stroke="#444" stroke-width="0.7" />
<line x1="142.95" y1="335.286" x2="144.35" y2="335.286" stroke="#444" stroke-width="0.7" />
<line x1="142.95" y1="331.658" x2="144.35" y2="331.658" stroke="#444" stroke-width="0.7" />
<line x1="142.95" y1="328.03" x2="144.35" y2="328.03" stroke="#444" stroke-width="0.7" />
<line x1="142.95" y1="324.402" x2="144.35" y2="324.402" stroke="#444" stroke-width="0.7" />
<line x1="142.95" y1="320.774" x2="144.35" y2="320.774" stroke="#444" stroke-width="0.7" />
<line x1="142.95" y1="317.14599999999996" x2="144.35" y2="317.14599999999996" stroke="#444" stroke-width="0.7" />
<line x1="142.95" y1="313.51800000000003" x2="144.35" y2="313.51800000000003" stroke="#444" stroke-width="0.7" />
<line x1="142.95" y1="309.89" x2="144.35" y2="309.89" stroke="#444" stroke-width="0.7" />
<line x1="142.95" y1="306.262" x2="144.35" y2="306.262" stroke="#444" stroke-width="0.7" />
<line x1="142.95" y1="302.634" x2="144.35" y2="302.634" stroke="#444" stroke-width="0.7" />
<line x1="142.95" y1="299.006" x2="144.35" y2="299.006" stroke="#444" stroke-width="0.7" />
<line x1="142.95" y1="295.378" x2="144.35" y2="295.378" stroke="#444" stroke-width="0.7" />
<line x1="142.95" y1="291.75" x2="144.35" y2="291.75" stroke="#444" stroke-width="0.7" />
<line x1="155" y1="383.0" x2="155" y2="384.8" stroke="#4a4a4a" stroke-width="0.7" />
<line x1="164.5" y1="383.0" x2="164.5" y2="384.8" stroke="#4a4a4a" stroke-width="0.7" />
<line x1="188" y1="383.0" x2="188" y2="384.8" stroke="#4a4a4a" stroke-width="0.7" />
<line x1="210" y1="383.0" x2="210" y2="384.8" stroke="#4a4a4a" stroke-width="0.7" />
<line x1="231.25" y1="383.0" x2="231.25" y2="384.8" stroke="#4a4a4a" stroke-width="0.7" />
<text x="155" y="391.2" font-size="4.4" text-anchor="middle" font-weight="normal" fill="#222" >0</text>
<text x="164.5" y="391.2" font-size="4.4" text-anchor="middle" font-weight="normal" fill="#222" >10<tspan dy="-1.5" font-size="3.1">2</tspan></text>
<text x="188" y="391.2" font-size="4.4" text-anchor="middle" font-weight="normal" fill="#222" >10<tspan dy="-1.5" font-size="3.1">3</tspan></text>
<text x="210" y="391.2" font-size="4.4" text-anchor="middle" font-weight="normal" fill="#222" >10<tspan dy="-1.5" font-size="3.1">4</tspan></text>
<text x="231.25" y="391.2" font-size="4.4" text-anchor="middle" font-weight="normal" fill="#222" >10<tspan dy="-1.5" font-size="3.1">5</tspan></text>
<text x="311.75" y="282.5" font-size="6.2" text-anchor="middle" font-weight="bold" fill="#141414" >pDC</text>
<polygon points="298,383.0 300.8,382.39 303.7,378.07 305.9,362.89 307.8,340.06 309.7,317.33 311.2,298.33 312.3,294.21 313.5,298.33 315,317.33 316.5,340.06 318.4,362.89 320.1,372.34 321.6,373.85 323.1,378.98 325.4,382.39 327,383.0" fill="#c2c2c2" stroke="#5c5c5c" stroke-width="0.6" stroke-linejoin="round"/>
<polyline points="266,383.0 316.9,382.8 319.7,381.29 321.6,379.58 323.5,380.28 325.9,378.98 327.8,372.34 329.7,360.98 331.6,347.7 332.9,344.79 334.2,330.61 335.4,326.79 336.7,325.88 338,315.42 339.5,302.15 340.6,294.21 341.8,305.97 342.9,324.88 344.2,347.7 345.5,366.61 347.1,378.07 348.9,382.39 351,383.0 361,383.0" fill="none" stroke="#0a0a0a" stroke-width="1.75" stroke-linejoin="round" stroke-linecap="round"/>
<rect x="265.75" y="288" width="95.75" height="95.80000000000001" fill="none" stroke="#666" stroke-width="0.8"/>
<line x1="263.65" y1="293.0" x2="265.75" y2="293.0" stroke="#333" stroke-width="0.9" />
<text x="261.55" y="294.6" font-size="4.3" text-anchor="end" font-weight="normal" fill="#222" >100</text>
<line x1="263.65" y1="311.1" x2="265.75" y2="311.1" stroke="#333" stroke-width="0.9" />
<text x="261.55" y="312.70000000000005" font-size="4.3" text-anchor="end" font-weight="normal" fill="#222" >80</text>
<line x1="263.65" y1="329.2" x2="265.75" y2="329.2" stroke="#333" stroke-width="0.9" />
<text x="261.55" y="330.8" font-size="4.3" text-anchor="end" font-weight="normal" fill="#222" >60</text>
<line x1="263.65" y1="347.3" x2="265.75" y2="347.3" stroke="#333" stroke-width="0.9" />
<text x="261.55" y="348.90000000000003" font-size="4.3" text-anchor="end" font-weight="normal" fill="#222" >40</text>
<line x1="263.65" y1="365.4" x2="265.75" y2="365.4" stroke="#333" stroke-width="0.9" />
<text x="261.55" y="367.0" font-size="4.3" text-anchor="end" font-weight="normal" fill="#222" >20</text>
<line x1="263.65" y1="383.5" x2="265.75" y2="383.5" stroke="#333" stroke-width="0.9" />
<text x="261.55" y="385.1" font-size="4.3" text-anchor="end" font-weight="normal" fill="#222" >0</text>
<line x1="264.35" y1="383.5" x2="265.75" y2="383.5" stroke="#444" stroke-width="0.7" />
<line x1="264.35" y1="379.88" x2="265.75" y2="379.88" stroke="#444" stroke-width="0.7" />
<line x1="264.35" y1="376.26" x2="265.75" y2="376.26" stroke="#444" stroke-width="0.7" />
<line x1="264.35" y1="372.64" x2="265.75" y2="372.64" stroke="#444" stroke-width="0.7" />
<line x1="264.35" y1="369.02" x2="265.75" y2="369.02" stroke="#444" stroke-width="0.7" />
<line x1="264.35" y1="365.4" x2="265.75" y2="365.4" stroke="#444" stroke-width="0.7" />
<line x1="264.35" y1="361.78" x2="265.75" y2="361.78" stroke="#444" stroke-width="0.7" />
<line x1="264.35" y1="358.16" x2="265.75" y2="358.16" stroke="#444" stroke-width="0.7" />
<line x1="264.35" y1="354.54" x2="265.75" y2="354.54" stroke="#444" stroke-width="0.7" />
<line x1="264.35" y1="350.92" x2="265.75" y2="350.92" stroke="#444" stroke-width="0.7" />
<line x1="264.35" y1="347.3" x2="265.75" y2="347.3" stroke="#444" stroke-width="0.7" />
<line x1="264.35" y1="343.68" x2="265.75" y2="343.68" stroke="#444" stroke-width="0.7" />
<line x1="264.35" y1="340.06" x2="265.75" y2="340.06" stroke="#444" stroke-width="0.7" />
<line x1="264.35" y1="336.44" x2="265.75" y2="336.44" stroke="#444" stroke-width="0.7" />
<line x1="264.35" y1="332.82" x2="265.75" y2="332.82" stroke="#444" stroke-width="0.7" />
<line x1="264.35" y1="329.2" x2="265.75" y2="329.2" stroke="#444" stroke-width="0.7" />
<line x1="264.35" y1="325.58" x2="265.75" y2="325.58" stroke="#444" stroke-width="0.7" />
<line x1="264.35" y1="321.96" x2="265.75" y2="321.96" stroke="#444" stroke-width="0.7" />
<line x1="264.35" y1="318.34000000000003" x2="265.75" y2="318.34000000000003" stroke="#444" stroke-width="0.7" />
<line x1="264.35" y1="314.72" x2="265.75" y2="314.72" stroke="#444" stroke-width="0.7" />
<line x1="264.35" y1="311.1" x2="265.75" y2="311.1" stroke="#444" stroke-width="0.7" />
<line x1="264.35" y1="307.48" x2="265.75" y2="307.48" stroke="#444" stroke-width="0.7" />
<line x1="264.35" y1="303.86" x2="265.75" y2="303.86" stroke="#444" stroke-width="0.7" />
<line x1="264.35" y1="300.24" x2="265.75" y2="300.24" stroke="#444" stroke-width="0.7" />
<line x1="264.35" y1="296.62" x2="265.75" y2="296.62" stroke="#444" stroke-width="0.7" />
<line x1="264.35" y1="293.0" x2="265.75" y2="293.0" stroke="#444" stroke-width="0.7" />
<line x1="276.25" y1="383.8" x2="276.25" y2="385.6" stroke="#4a4a4a" stroke-width="0.7" />
<line x1="285.75" y1="383.8" x2="285.75" y2="385.6" stroke="#4a4a4a" stroke-width="0.7" />
<line x1="308.75" y1="383.8" x2="308.75" y2="385.6" stroke="#4a4a4a" stroke-width="0.7" />
<line x1="330.5" y1="383.8" x2="330.5" y2="385.6" stroke="#4a4a4a" stroke-width="0.7" />
<line x1="351.75" y1="383.8" x2="351.75" y2="385.6" stroke="#4a4a4a" stroke-width="0.7" />
<text x="276.25" y="392.4" font-size="4.4" text-anchor="middle" font-weight="normal" fill="#222" >0</text>
<text x="285.75" y="392.4" font-size="4.4" text-anchor="middle" font-weight="normal" fill="#222" >10<tspan dy="-1.5" font-size="3.1">2</tspan></text>
<text x="308.75" y="392.4" font-size="4.4" text-anchor="middle" font-weight="normal" fill="#222" >10<tspan dy="-1.5" font-size="3.1">3</tspan></text>
<text x="330.5" y="392.4" font-size="4.4" text-anchor="middle" font-weight="normal" fill="#222" >10<tspan dy="-1.5" font-size="3.1">4</tspan></text>
<text x="351.75" y="392.4" font-size="4.4" text-anchor="middle" font-weight="normal" fill="#222" >10<tspan dy="-1.5" font-size="3.1">5</tspan></text>
<polygon points="34,506.0 37.1,505.3 40.9,502.5 44.6,494.9 47.5,485.5 49.7,476.0 51.2,457.2 52.6,438.3 53.7,423.2 54.5,417.2 55.6,428.9 56.3,434.5 57.1,427.9 58.2,438.3 59.7,449.6 61.1,459.1 62.2,476.0 63.5,491.1 65.4,498.7 68.2,504.3 70.1,505.3 72,506.0" fill="#c2c2c2" stroke="#5c5c5c" stroke-width="0.6" stroke-linejoin="round"/>
<polyline points="23.5,505.8 30,505.4 33,506.0 50.3,505.5 55,503.4 57.8,500.6 60.7,495.8 62.6,493.0 63.9,490.2 65.3,493.0 67.3,490.6 70.2,485.5 72.2,476.0 74.1,467.5 75.5,456.5 76.7,449.0 77.6,445.0 78.1,430.0 78.7,422.5 79.5,430.0 80.4,444.0 81.8,444.9 82.9,428.0 84,417.5 85.1,418.3 86.1,430.0 87,447.7 88.3,464.7 89.8,476.0 91.1,487.4 93,494.9 94.9,501.5 97.4,504.9 100,505.8 117.8,505.8" fill="none" stroke="#0a0a0a" stroke-width="1.75" stroke-linejoin="round" stroke-linecap="round"/>
<rect x="23.2" y="411.4" width="94.89999999999999" height="95.90000000000003" fill="none" stroke="#666" stroke-width="0.8"/>
<line x1="21.099999999999998" y1="415.5" x2="23.2" y2="415.5" stroke="#333" stroke-width="0.9" />
<text x="19.0" y="417.1" font-size="4.3" text-anchor="end" font-weight="normal" fill="#222" >100</text>
<line x1="21.099999999999998" y1="433.7" x2="23.2" y2="433.7" stroke="#333" stroke-width="0.9" />
<text x="19.0" y="435.3" font-size="4.3" text-anchor="end" font-weight="normal" fill="#222" >80</text>
<line x1="21.099999999999998" y1="451.9" x2="23.2" y2="451.9" stroke="#333" stroke-width="0.9" />
<text x="19.0" y="453.5" font-size="4.3" text-anchor="end" font-weight="normal" fill="#222" >60</text>
<line x1="21.099999999999998" y1="470.1" x2="23.2" y2="470.1" stroke="#333" stroke-width="0.9" />
<text x="19.0" y="471.70000000000005" font-size="4.3" text-anchor="end" font-weight="normal" fill="#222" >40</text>
<line x1="21.099999999999998" y1="488.3" x2="23.2" y2="488.3" stroke="#333" stroke-width="0.9" />
<text x="19.0" y="489.90000000000003" font-size="4.3" text-anchor="end" font-weight="normal" fill="#222" >20</text>
<line x1="21.099999999999998" y1="506.5" x2="23.2" y2="506.5" stroke="#333" stroke-width="0.9" />
<text x="19.0" y="508.1" font-size="4.3" text-anchor="end" font-weight="normal" fill="#222" >0</text>
<line x1="21.8" y1="506.5" x2="23.2" y2="506.5" stroke="#444" stroke-width="0.7" />
<line x1="21.8" y1="502.86" x2="23.2" y2="502.86" stroke="#444" stroke-width="0.7" />
<line x1="21.8" y1="499.22" x2="23.2" y2="499.22" stroke="#444" stroke-width="0.7" />
<line x1="21.8" y1="495.58" x2="23.2" y2="495.58" stroke="#444" stroke-width="0.7" />
<line x1="21.8" y1="491.94" x2="23.2" y2="491.94" stroke="#444" stroke-width="0.7" />
<line x1="21.8" y1="488.3" x2="23.2" y2="488.3" stroke="#444" stroke-width="0.7" />
<line x1="21.8" y1="484.66" x2="23.2" y2="484.66" stroke="#444" stroke-width="0.7" />
<line x1="21.8" y1="481.02" x2="23.2" y2="481.02" stroke="#444" stroke-width="0.7" />
<line x1="21.8" y1="477.38" x2="23.2" y2="477.38" stroke="#444" stroke-width="0.7" />
<line x1="21.8" y1="473.74" x2="23.2" y2="473.74" stroke="#444" stroke-width="0.7" />
<line x1="21.8" y1="470.1" x2="23.2" y2="470.1" stroke="#444" stroke-width="0.7" />
<line x1="21.8" y1="466.46" x2="23.2" y2="466.46" stroke="#444" stroke-width="0.7" />
<line x1="21.8" y1="462.82" x2="23.2" y2="462.82" stroke="#444" stroke-width="0.7" />
<line x1="21.8" y1="459.18" x2="23.2" y2="459.18" stroke="#444" stroke-width="0.7" />
<line x1="21.8" y1="455.54" x2="23.2" y2="455.54" stroke="#444" stroke-width="0.7" />
<line x1="21.8" y1="451.9" x2="23.2" y2="451.9" stroke="#444" stroke-width="0.7" />
<line x1="21.8" y1="448.26" x2="23.2" y2="448.26" stroke="#444" stroke-width="0.7" />
<line x1="21.8" y1="444.62" x2="23.2" y2="444.62" stroke="#444" stroke-width="0.7" />
<line x1="21.8" y1="440.98" x2="23.2" y2="440.98" stroke="#444" stroke-width="0.7" />
<line x1="21.8" y1="437.34000000000003" x2="23.2" y2="437.34000000000003" stroke="#444" stroke-width="0.7" />
<line x1="21.8" y1="433.7" x2="23.2" y2="433.7" stroke="#444" stroke-width="0.7" />
<line x1="21.8" y1="430.06" x2="23.2" y2="430.06" stroke="#444" stroke-width="0.7" />
<line x1="21.8" y1="426.42" x2="23.2" y2="426.42" stroke="#444" stroke-width="0.7" />
<line x1="21.8" y1="422.78" x2="23.2" y2="422.78" stroke="#444" stroke-width="0.7" />
<line x1="21.8" y1="419.14" x2="23.2" y2="419.14" stroke="#444" stroke-width="0.7" />
<line x1="21.8" y1="415.5" x2="23.2" y2="415.5" stroke="#444" stroke-width="0.7" />
<line x1="33.75" y1="507.3" x2="33.75" y2="509.1" stroke="#4a4a4a" stroke-width="0.7" />
<line x1="43.75" y1="507.3" x2="43.75" y2="509.1" stroke="#4a4a4a" stroke-width="0.7" />
<line x1="65.75" y1="507.3" x2="65.75" y2="509.1" stroke="#4a4a4a" stroke-width="0.7" />
<line x1="88" y1="507.3" x2="88" y2="509.1" stroke="#4a4a4a" stroke-width="0.7" />
<line x1="110" y1="507.3" x2="110" y2="509.1" stroke="#4a4a4a" stroke-width="0.7" />
<text x="33.75" y="515.6" font-size="4.4" text-anchor="middle" font-weight="normal" fill="#222" >0</text>
<text x="43.75" y="515.6" font-size="4.4" text-anchor="middle" font-weight="normal" fill="#222" >10<tspan dy="-1.5" font-size="3.1">2</tspan></text>
<text x="65.75" y="515.6" font-size="4.4" text-anchor="middle" font-weight="normal" fill="#222" >10<tspan dy="-1.5" font-size="3.1">3</tspan></text>
<text x="88" y="515.6" font-size="4.4" text-anchor="middle" font-weight="normal" fill="#222" >10<tspan dy="-1.5" font-size="3.1">4</tspan></text>
<text x="110" y="515.6" font-size="4.4" text-anchor="middle" font-weight="normal" fill="#222" >10<tspan dy="-1.5" font-size="3.1">5</tspan></text>
<polygon points="157,506.0 159.2,505.3 162.9,502.5 165.8,494.9 168.6,485.5 171,474.2 172.7,462.8 173.9,447.7 174.8,432.6 175.6,427.9 176.1,428.9 177.5,416.6 178.6,427.0 179.9,442.1 181.2,457.2 182.7,474.2 184.2,489.2 185.6,498.7 186.9,504.3 188,506.0" fill="#c2c2c2" stroke="#5c5c5c" stroke-width="0.6" stroke-linejoin="round"/>
<polyline points="147.2,505.8 175.2,505.6 177.1,504.3 179,503.0 181.2,504.3 184.1,502.1 186.3,503.6 187.8,504.0 190.7,499.6 192.9,496.4 195.4,497.2 197.3,492.5 198.6,492.1 200.1,498.7 201.3,500.2 202.5,493.0 203.5,476.0 204.6,459.1 205.4,455.3 206.7,457.2 207.6,449.6 209,443.0 210.5,438.3 211.4,443.0 212.6,432.6 213.9,416.6 215.4,430.5 217.0,420.0 218.0,430.0 219,447.7 220.3,464.7 221.4,481.7 222.4,493.0 223.7,494.0 224.2,492.1 225.2,498.7 226.9,504.9 229,505.8 238.8,505.8 240.7,503.8 242,501.5" fill="none" stroke="#0a0a0a" stroke-width="1.75" stroke-linejoin="round" stroke-linecap="round"/>
<rect x="147" y="410.5" width="95.30000000000001" height="96.39999999999998" fill="none" stroke="#666" stroke-width="0.8"/>
<line x1="144.9" y1="415.5" x2="147" y2="415.5" stroke="#333" stroke-width="0.9" />
<text x="142.8" y="417.1" font-size="4.3" text-anchor="end" font-weight="normal" fill="#222" >100</text>
<line x1="144.9" y1="433.68" x2="147" y2="433.68" stroke="#333" stroke-width="0.9" />
<text x="142.8" y="435.28000000000003" font-size="4.3" text-anchor="end" font-weight="normal" fill="#222" >80</text>
<line x1="144.9" y1="451.86" x2="147" y2="451.86" stroke="#333" stroke-width="0.9" />
<text x="142.8" y="453.46000000000004" font-size="4.3" text-anchor="end" font-weight="normal" fill="#222" >60</text>
<line x1="144.9" y1="470.03999999999996" x2="147" y2="470.03999999999996" stroke="#333" stroke-width="0.9" />
<text x="142.8" y="471.64" font-size="4.3" text-anchor="end" font-weight="normal" fill="#222" >40</text>
<line x1="144.9" y1="488.21999999999997" x2="147" y2="488.21999999999997" stroke="#333" stroke-width="0.9" />
<text x="142.8" y="489.82" font-size="4.3" text-anchor="end" font-weight="normal" fill="#222" >20</text>
<line x1="144.9" y1="506.4" x2="147" y2="506.4" stroke="#333" stroke-width="0.9" />
<text x="142.8" y="508.0" font-size="4.3" text-anchor="end" font-weight="normal" fill="#222" >0</text>
<line x1="145.6" y1="506.4" x2="147" y2="506.4" stroke="#444" stroke-width="0.7" />
<line x1="145.6" y1="502.76399999999995" x2="147" y2="502.76399999999995" stroke="#444" stroke-width="0.7" />
<line x1="145.6" y1="499.128" x2="147" y2="499.128" stroke="#444" stroke-width="0.7" />
<line x1="145.6" y1="495.49199999999996" x2="147" y2="495.49199999999996" stroke="#444" stroke-width="0.7" />
<line x1="145.6" y1="491.856" x2="147" y2="491.856" stroke="#444" stroke-width="0.7" />
<line x1="145.6" y1="488.21999999999997" x2="147" y2="488.21999999999997" stroke="#444" stroke-width="0.7" />
<line x1="145.6" y1="484.584" x2="147" y2="484.584" stroke="#444" stroke-width="0.7" />
<line x1="145.6" y1="480.948" x2="147" y2="480.948" stroke="#444" stroke-width="0.7" />
<line x1="145.6" y1="477.312" x2="147" y2="477.312" stroke="#444" stroke-width="0.7" />
<line x1="145.6" y1="473.676" x2="147" y2="473.676" stroke="#444" stroke-width="0.7" />
<line x1="145.6" y1="470.03999999999996" x2="147" y2="470.03999999999996" stroke="#444" stroke-width="0.7" />
<line x1="145.6" y1="466.404" x2="147" y2="466.404" stroke="#444" stroke-width="0.7" />
<line x1="145.6" y1="462.768" x2="147" y2="462.768" stroke="#444" stroke-width="0.7" />
<line x1="145.6" y1="459.132" x2="147" y2="459.132" stroke="#444" stroke-width="0.7" />
<line x1="145.6" y1="455.496" x2="147" y2="455.496" stroke="#444" stroke-width="0.7" />
<line x1="145.6" y1="451.86" x2="147" y2="451.86" stroke="#444" stroke-width="0.7" />
<line x1="145.6" y1="448.224" x2="147" y2="448.224" stroke="#444" stroke-width="0.7" />
<line x1="145.6" y1="444.58799999999997" x2="147" y2="444.58799999999997" stroke="#444" stroke-width="0.7" />
<line x1="145.6" y1="440.952" x2="147" y2="440.952" stroke="#444" stroke-width="0.7" />
<line x1="145.6" y1="437.31600000000003" x2="147" y2="437.31600000000003" stroke="#444" stroke-width="0.7" />
<line x1="145.6" y1="433.68" x2="147" y2="433.68" stroke="#444" stroke-width="0.7" />
<line x1="145.6" y1="430.044" x2="147" y2="430.044" stroke="#444" stroke-width="0.7" />
<line x1="145.6" y1="426.408" x2="147" y2="426.408" stroke="#444" stroke-width="0.7" />
<line x1="145.6" y1="422.772" x2="147" y2="422.772" stroke="#444" stroke-width="0.7" />
<line x1="145.6" y1="419.13599999999997" x2="147" y2="419.13599999999997" stroke="#444" stroke-width="0.7" />
<line x1="145.6" y1="415.5" x2="147" y2="415.5" stroke="#444" stroke-width="0.7" />
<line x1="157.5" y1="506.9" x2="157.5" y2="508.7" stroke="#4a4a4a" stroke-width="0.7" />
<line x1="167" y1="506.9" x2="167" y2="508.7" stroke="#4a4a4a" stroke-width="0.7" />
<line x1="190.5" y1="506.9" x2="190.5" y2="508.7" stroke="#4a4a4a" stroke-width="0.7" />
<line x1="212.5" y1="506.9" x2="212.5" y2="508.7" stroke="#4a4a4a" stroke-width="0.7" />
<line x1="233.75" y1="506.9" x2="233.75" y2="508.7" stroke="#4a4a4a" stroke-width="0.7" />
<text x="157.5" y="515.6" font-size="4.4" text-anchor="middle" font-weight="normal" fill="#222" >0</text>
<text x="167" y="515.6" font-size="4.4" text-anchor="middle" font-weight="normal" fill="#222" >10<tspan dy="-1.5" font-size="3.1">2</tspan></text>
<text x="190.5" y="515.6" font-size="4.4" text-anchor="middle" font-weight="normal" fill="#222" >10<tspan dy="-1.5" font-size="3.1">3</tspan></text>
<text x="212.5" y="515.6" font-size="4.4" text-anchor="middle" font-weight="normal" fill="#222" >10<tspan dy="-1.5" font-size="3.1">4</tspan></text>
<text x="233.75" y="515.6" font-size="4.4" text-anchor="middle" font-weight="normal" fill="#222" >10<tspan dy="-1.5" font-size="3.1">5</tspan></text>
<polygon points="268.5,506.0 268.8,504.9 271.6,502.5 274.4,494.9 276.3,491.5 277.8,491.1 279.7,479.8 282,466.6 283.9,455.3 285.4,447.7 286.5,448.7 287.6,438.3 289.2,425.1 290.5,417.5 291.8,416.6 293.3,425.1 294.8,442.1 296.1,455.3 298,472.3 299.9,485.5 301.8,494.9 303.7,500.6 305.6,502.8 307.5,502.1 309.3,504.3 312.2,505.1 314,506.0" fill="#c2c2c2" stroke="#5c5c5c" stroke-width="0.6" stroke-linejoin="round"/>
<polyline points="268.8,505.8 287.6,505.6 293.3,504.6 299,503.6 302.7,502.1 305,498.7 306.9,493.0 308.4,485.5 309.8,476.0 310.7,472.3 312,470.4 313.5,459.1 314.8,453.4 315.9,445.8 317.3,444.9 318.2,432.6 319.3,416.8 320.5,428.9 322,431.7 323.1,440.2 324.2,460.9 325.4,479.8 326.9,480.2 328,489.2 329.5,496.8 331.4,502.5 333.3,505.3 336,505.8 363.2,505.8" fill="none" stroke="#0a0a0a" stroke-width="1.75" stroke-linejoin="round" stroke-linecap="round"/>
<rect x="268.6" y="410.5" width="95.0" height="96.39999999999998" fill="none" stroke="#666" stroke-width="0.8"/>
<line x1="266.5" y1="415.0" x2="268.6" y2="415.0" stroke="#333" stroke-width="0.9" />
<text x="264.40000000000003" y="416.6" font-size="4.3" text-anchor="end" font-weight="normal" fill="#222" >100</text>
<line x1="266.5" y1="433.28" x2="268.6" y2="433.28" stroke="#333" stroke-width="0.9" />
<text x="264.40000000000003" y="434.88" font-size="4.3" text-anchor="end" font-weight="normal" fill="#222" >80</text>
<line x1="266.5" y1="451.56" x2="268.6" y2="451.56" stroke="#333" stroke-width="0.9" />
<text x="264.40000000000003" y="453.16" font-size="4.3" text-anchor="end" font-weight="normal" fill="#222" >60</text>
<line x1="266.5" y1="469.84" x2="268.6" y2="469.84" stroke="#333" stroke-width="0.9" />
<text x="264.40000000000003" y="471.44" font-size="4.3" text-anchor="end" font-weight="normal" fill="#222" >40</text>
<line x1="266.5" y1="488.12" x2="268.6" y2="488.12" stroke="#333" stroke-width="0.9" />
<text x="264.40000000000003" y="489.72" font-size="4.3" text-anchor="end" font-weight="normal" fill="#222" >20</text>
<line x1="266.5" y1="506.4" x2="268.6" y2="506.4" stroke="#333" stroke-width="0.9" />
<text x="264.40000000000003" y="508.0" font-size="4.3" text-anchor="end" font-weight="normal" fill="#222" >0</text>
<line x1="267.20000000000005" y1="506.4" x2="268.6" y2="506.4" stroke="#444" stroke-width="0.7" />
<line x1="267.20000000000005" y1="502.74399999999997" x2="268.6" y2="502.74399999999997" stroke="#444" stroke-width="0.7" />
<line x1="267.20000000000005" y1="499.08799999999997" x2="268.6" y2="499.08799999999997" stroke="#444" stroke-width="0.7" />
<line x1="267.20000000000005" y1="495.43199999999996" x2="268.6" y2="495.43199999999996" stroke="#444" stroke-width="0.7" />
<line x1="267.20000000000005" y1="491.77599999999995" x2="268.6" y2="491.77599999999995" stroke="#444" stroke-width="0.7" />
<line x1="267.20000000000005" y1="488.12" x2="268.6" y2="488.12" stroke="#444" stroke-width="0.7" />
<line x1="267.20000000000005" y1="484.464" x2="268.6" y2="484.464" stroke="#444" stroke-width="0.7" />
<line x1="267.20000000000005" y1="480.808" x2="268.6" y2="480.808" stroke="#444" stroke-width="0.7" />
<line x1="267.20000000000005" y1="477.152" x2="268.6" y2="477.152" stroke="#444" stroke-width="0.7" />
<line x1="267.20000000000005" y1="473.496" x2="268.6" y2="473.496" stroke="#444" stroke-width="0.7" />
<line x1="267.20000000000005" y1="469.84" x2="268.6" y2="469.84" stroke="#444" stroke-width="0.7" />
<line x1="267.20000000000005" y1="466.18399999999997" x2="268.6" y2="466.18399999999997" stroke="#444" stroke-width="0.7" />
<line x1="267.20000000000005" y1="462.528" x2="268.6" y2="462.528" stroke="#444" stroke-width="0.7" />
<line x1="267.20000000000005" y1="458.87199999999996" x2="268.6" y2="458.87199999999996" stroke="#444" stroke-width="0.7" />
<line x1="267.20000000000005" y1="455.216" x2="268.6" y2="455.216" stroke="#444" stroke-width="0.7" />
<line x1="267.20000000000005" y1="451.56" x2="268.6" y2="451.56" stroke="#444" stroke-width="0.7" />
<line x1="267.20000000000005" y1="447.904" x2="268.6" y2="447.904" stroke="#444" stroke-width="0.7" />
<line x1="267.20000000000005" y1="444.248" x2="268.6" y2="444.248" stroke="#444" stroke-width="0.7" />
<line x1="267.20000000000005" y1="440.592" x2="268.6" y2="440.592" stroke="#444" stroke-width="0.7" />
<line x1="267.20000000000005" y1="436.936" x2="268.6" y2="436.936" stroke="#444" stroke-width="0.7" />
<line x1="267.20000000000005" y1="433.28" x2="268.6" y2="433.28" stroke="#444" stroke-width="0.7" />
<line x1="267.20000000000005" y1="429.624" x2="268.6" y2="429.624" stroke="#444" stroke-width="0.7" />
<line x1="267.20000000000005" y1="425.968" x2="268.6" y2="425.968" stroke="#444" stroke-width="0.7" />
<line x1="267.20000000000005" y1="422.312" x2="268.6" y2="422.312" stroke="#444" stroke-width="0.7" />
<line x1="267.20000000000005" y1="418.656" x2="268.6" y2="418.656" stroke="#444" stroke-width="0.7" />
<line x1="267.20000000000005" y1="415.0" x2="268.6" y2="415.0" stroke="#444" stroke-width="0.7" />
<line x1="278.75" y1="506.9" x2="278.75" y2="508.7" stroke="#4a4a4a" stroke-width="0.7" />
<line x1="288.75" y1="506.9" x2="288.75" y2="508.7" stroke="#4a4a4a" stroke-width="0.7" />
<line x1="311.25" y1="506.9" x2="311.25" y2="508.7" stroke="#4a4a4a" stroke-width="0.7" />
<line x1="333.75" y1="506.9" x2="333.75" y2="508.7" stroke="#4a4a4a" stroke-width="0.7" />
<line x1="355" y1="506.9" x2="355" y2="508.7" stroke="#4a4a4a" stroke-width="0.7" />
<text x="278.75" y="515.6" font-size="4.4" text-anchor="middle" font-weight="normal" fill="#222" >0</text>
<text x="288.75" y="515.6" font-size="4.4" text-anchor="middle" font-weight="normal" fill="#222" >10<tspan dy="-1.5" font-size="3.1">2</tspan></text>
<text x="311.25" y="515.6" font-size="4.4" text-anchor="middle" font-weight="normal" fill="#222" >10<tspan dy="-1.5" font-size="3.1">3</tspan></text>
<text x="333.75" y="515.6" font-size="4.4" text-anchor="middle" font-weight="normal" fill="#222" >10<tspan dy="-1.5" font-size="3.1">4</tspan></text>
<text x="355" y="515.6" font-size="4.4" text-anchor="middle" font-weight="normal" fill="#222" >10<tspan dy="-1.5" font-size="3.1">5</tspan></text>
<polyline points="10.2,318.2 10.2,395.7 89.4,395.7" fill="none" stroke="#111" stroke-width="1.45"/>
<text transform="translate(6.4,394.7) rotate(-90)" font-size="6.8" font-weight="bold" text-anchor="start" fill="#111">% of Max</text>
<text x="9.2" y="406.3" font-size="6.2" text-anchor="start" font-weight="bold" fill="#111" >HLA-ABC</text>
<polyline points="10.2,441 10.2,518.7 89.4,518.7" fill="none" stroke="#111" stroke-width="1.45"/>
<text transform="translate(6.4,517.7) rotate(-90)" font-size="6.8" font-weight="bold" text-anchor="start" fill="#111">% of Max</text>
<text x="9.2" y="528.9" font-size="6.2" text-anchor="start" font-weight="bold" fill="#111" >CD86</text>
</g>
<defs><filter id="soft" x="0" y="0" width="520" height="530" filterUnits="userSpaceOnUse"><feGaussianBlur stdDeviation="0.35"/></filter></defs>
</svg>
</body>
</html>
